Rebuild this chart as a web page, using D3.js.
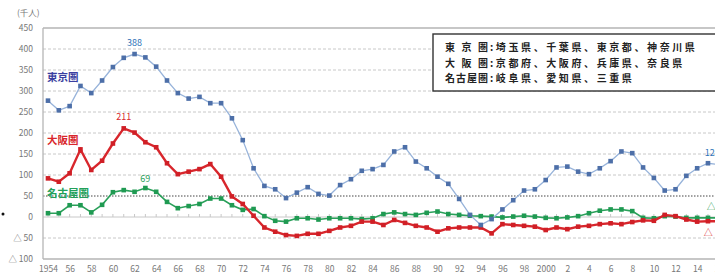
<!DOCTYPE html>
<html>
<head>
<meta charset="utf-8">
<script src="https://cdn.jsdelivr.net/npm/d3@7"></script>
<style>
  body { margin: 0; background: #fff; }
  text { font-family: 'Noto Sans CJK JP', 'DejaVu Sans', sans-serif; }
</style>
</head>
<body>
<div id="chart"></div>
<script>
const years = d3.range(1954, 2017);
// 転入超過数 (千人)
const tokyo = [277, 254, 264, 312, 295, 325, 357, 379, 388, 380, 358, 325, 295, 282, 286, 271, 271, 235,
    183, 116, 74, 66, 45, 58, 71, 55, 51, 76, 90, 110, 114, 124, 156, 166, 132, 116, 96, 79, 43, 5,
    -19, -5, 18, 40, 63, 66, 88, 118, 120, 108, 102, 116, 133, 156, 152, 118, 93, 63, 66, 98, 116, 128, 125];
const osaka = [92, 84, 104, 161, 112, 134, 175, 211, 201, 178, 166, 128, 102, 108, 114, 126, 96, 49,
    31, 3, -25, -35, -43, -45, -40, -40, -33, -25, -21, -11, -11, -19, -7, -14, -21, -25, -35, -27, -25, -25,
    -25, -39, -17, -19, -21, -23, -31, -25, -29, -23, -21, -17, -15, -17, -12, -8, -9, 5, 2, -6, -11, -10, -10];
const nagoya = [9, 9, 28, 28, 11, 29, 59, 64, 60, 69, 60, 36, 21, 26, 31, 44, 44, 28,
    17, 19, 2, -9, -11, -3, -3, -6, -3, -3, -3, -5, -3, 7, 11, 7, 5, 10, 13, 7, 5, 3,
    2, 1, -1, 1, 3, 1, -2, -3, -1, 2, 9, 15, 18, 18, 14, -2, -3, 2, 1, -2, -2, -2, -2];
const yTicks = [450, 400, 350, 300, 250, 200, 150, 100, 50, 0, -50, -100];
const xTicks = d3.range(1954, 2017, 2);

const width = 715;
const height = 275;

const svg = d3.select('#chart')
    .append('svg')
    .attr('width', width)
    .attr('height', height);

const x = d3.scaleLinear().domain([1954, 2016]).range([48, 718.8]);
const y = d3.scaleLinear().domain([-100, 450]).range([259, 28]);
const left = 43;
const right = 730;

// grid
svg.append('g')
    .selectAll('line')
    .data(yTicks)
    .enter().append('line')
    .attr('x1', left)
    .attr('x2', right)
    .attr('y1', d => y(d))
    .attr('y2', d => y(d))
    .attr('stroke', d => d === 50 ? '#444' : (d === 450 || d === -100 ? '#b5b5b5' : '#c8c8c8'))
    .attr('stroke-width', d => d === 450 || d === -100 ? 1.3 : 1)
    .attr('stroke-dasharray', d => d === 50 ? '1.5,1.5' : (d === 450 || d === -100 || d === 0 ? null : '3,2'));

// small ticks on the zero line
svg.append('g')
    .selectAll('line')
    .data(years)
    .enter().append('line')
    .attr('x1', d => x(d))
    .attr('x2', d => x(d))
    .attr('y1', y(0))
    .attr('y2', y(0) - 3)
    .attr('stroke', '#c8c8c8');

svg.append('line')
    .attr('x1', left).attr('x2', left)
    .attr('y1', y(450)).attr('y2', y(-100))
    .attr('stroke', '#b5b5b5')
    .attr('stroke-width', 1.3);

// y labels
svg.append('g')
    .selectAll('text')
    .data(yTicks)
    .enter().append('text')
    .attr('x', 33)
    .attr('y', d => y(d) + 3)
    .attr('text-anchor', 'end')
    .attr('font-size', 8.5)
    .attr('fill', '#777')
    .text(d => d < 0 ? '△ ' + (-d) : d);

svg.append('text')
    .attr('x', 17)
    .attr('y', 16)
    .attr('font-size', 8.5)
    .attr('fill', '#777')
    .text('(千人)');

// x axis labels
const xAxis = d3.axisBottom(x)
    .tickValues(xTicks)
    .tickSize(0)
    .tickPadding(0)
    .tickFormat(d => d === 1954 || d === 2000 ? String(d) : String(d % 100));

svg.append('g')
    .attr('transform', 'translate(0,266)')
    .call(xAxis)
    .call(g => g.select('.domain').remove())
    .selectAll('text')
    .attr('font-size', 8.5)
    .attr('fill', '#777');

// series
const series = [
    { name: 'nagoya', values: nagoya, line: '#2aa05a', mark: '#1f9a52', width: 1.6 },
    { name: 'osaka', values: osaka, line: '#d8262c', mark: '#d01f26', width: 2.4 },
    { name: 'tokyo', values: tokyo, line: '#97b3da', mark: '#4d6fa8', width: 1.3 }
];

const line = d3.line()
    .x((d, i) => x(years[i]))
    .y(d => y(d));

series.forEach(s => {
    svg.append('path')
        .datum(s.values)
        .attr('fill', 'none')
        .attr('stroke', s.line)
        .attr('stroke-width', s.width)
        .attr('d', line);

    svg.append('g')
        .selectAll('rect')
        .data(s.values)
        .enter().append('rect')
        .attr('x', (d, i) => x(years[i]) - 2.3)
        .attr('y', d => y(d) - 2.3)
        .attr('width', 4.6)
        .attr('height', 4.6)
        .attr('fill', s.mark);
});

// value labels (the last three run off the right edge, as in the source)
const valueLabels = [
    { year: 1962, value: 388, text: '388', fill: '#2f73b8', dx: 0, dy: -8, anchor: 'middle' },
    { year: 1961, value: 211, text: '211', fill: '#d8262c', dx: 0, dy: -8, anchor: 'middle' },
    { year: 1963, value: 69, text: '69', fill: '#2aa05a', dx: 0, dy: -6, anchor: 'middle' },
    { year: 2016, value: 125, text: '125', fill: '#2f73b8', dx: -14, dy: -9, anchor: 'start' },
    { year: 2016, value: -2, text: '△ 2', fill: '#2aa05a', dx: -12, dy: -8, anchor: 'start' },
    { year: 2016, value: -10, text: '△ 10', fill: '#d8262c', dx: -15, dy: 15, anchor: 'start' }
];

svg.append('g')
    .selectAll('text')
    .data(valueLabels)
    .enter().append('text')
    .attr('x', d => x(d.year) + d.dx)
    .attr('y', d => y(d.value) + d.dy)
    .attr('text-anchor', d => d.anchor)
    .attr('font-size', 9)
    .attr('fill', d => d.fill)
    .text(d => d.text);

// series names
const names = [
    { text: '東京圏', y: 81, fill: '#3a3fa0' },
    { text: '大阪圏', y: 144, fill: '#d8262c' },
    { text: '名古屋圏', y: 197, fill: '#22a05a' }
];

svg.append('g')
    .selectAll('text')
    .data(names)
    .enter().append('text')
    .attr('x', 47)
    .attr('y', d => d.y)
    .attr('font-size', 10.5)
    .attr('font-weight', 'bold')
    .attr('fill', d => d.fill)
    .text(d => d.text);

// legend box
const legendRows = [
    { label: '東京圏', rest: '埼玉県、千葉県、東京都、神奈川県' },
    { label: '大阪圏', rest: '京都府、大阪府、兵庫県、奈良県' },
    { label: '名古屋圏', rest: '岐阜県、愛知県、三重県' }
];

svg.append('rect')
    .attr('x', 433)
    .attr('y', 34)
    .attr('width', 300)
    .attr('height', 57)
    .attr('fill', '#fff')
    .attr('stroke', '#333')
    .attr('stroke-width', 1.4);

const legend = svg.append('g')
    .selectAll('g')
    .data(legendRows)
    .enter().append('g')
    .attr('transform', (d, i) => `translate(0,${51 + i * 15.5})`);

legend.append('text')
    .attr('x', 445)
    .attr('font-size', 10)
    .attr('font-weight', 'bold')
    .attr('fill', '#222')
    .attr('textLength', 43)
    .attr('lengthAdjust', 'spacing')
    .text(d => d.label);

legend.append('text')
    .attr('x', 490)
    .attr('font-size', 10)
    .attr('font-weight', 'bold')
    .attr('fill', '#222')
    .attr('letter-spacing', 2.6)
    .text(d => ':' + d.rest);

// stray mark at left edge
svg.append('circle')
    .attr('cx', 3)
    .attr('cy', 214)
    .attr('r', 1.5)
    .attr('fill', '#111');
</script>
</body>
</html>
